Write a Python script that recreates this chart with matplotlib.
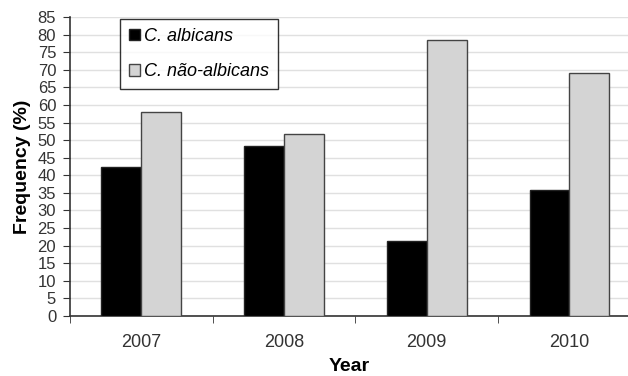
import matplotlib
matplotlib.use("Agg")
import matplotlib.pyplot as plt
import numpy as np

years = ["2007", "2008", "2009", "2010"]
albicans = [42.4, 48.3, 21.4, 35.8]
nao_albicans = [58.0, 51.7, 78.5, 69.2]
yticks = list(range(0, 90, 5))

plt.rcParams['font.family'] = ['Liberation Sans', 'DejaVu Sans']

fig = plt.figure(figsize=(6.28, 3.76), dpi=100)
ax = fig.add_axes([0.1115, 0.1596, 1.0 - 0.1115, 0.9548 - 0.1596])

x = np.arange(len(years))
w = 0.28
ax.bar(x - w/2, albicans, width=w, color='black', edgecolor='#222222', linewidth=1.0,
       label='C. albicans', zorder=3)
ax.bar(x + w/2, nao_albicans, width=w, color='#d4d4d4', edgecolor='#444444', linewidth=1.0,
       label='C. não-albicans', zorder=3)

ax.set_yticks(yticks)
ax.set_yticklabels([str(t) for t in yticks], fontsize=12, color='#333333')
ax.set_xticks(x)
ax.set_xticklabels(years, fontsize=13, color='#333333')
ax.tick_params(axis='x', which='major', length=0, pad=13)
ax.set_xticks(np.arange(-0.5, 3.6, 1.0), minor=True)
ax.tick_params(axis='x', which='minor', length=5, direction='out', color='#333333')
ax.tick_params(axis='y', length=5, direction='out', pad=5, color='#333333')
ax.set_ylim(0, 85)
ax.set_xlim(-0.5, 3.41)

ax.grid(axis='y', color='#e0e0e0', linewidth=1.0, zorder=0)
ax.set_axisbelow(True)
for s in ['top', 'right']:
    ax.spines[s].set_visible(False)
ax.spines['left'].set_color('#333333')
ax.spines['bottom'].set_color('#333333')
ax.spines['left'].set_linewidth(1.2)
ax.spines['bottom'].set_linewidth(1.2)

ax.set_ylabel('Frequency (%)', fontsize=14, fontweight='bold', labelpad=5)
ax.set_xlabel('Year', fontsize=14, fontweight='bold', labelpad=5)

leg = ax.legend(loc='upper left', bbox_to_anchor=(0.0896, 0.993), frameon=True, fancybox=False,
                edgecolor='black', handlelength=0.6, handleheight=0.6,
                handletextpad=0.25, labelspacing=1.0, borderpad=0.5, borderaxespad=0.0,
                prop={'style': 'italic', 'size': 13})
leg.get_frame().set_linewidth(1.0)

fig.savefig('out.png', dpi=100)
